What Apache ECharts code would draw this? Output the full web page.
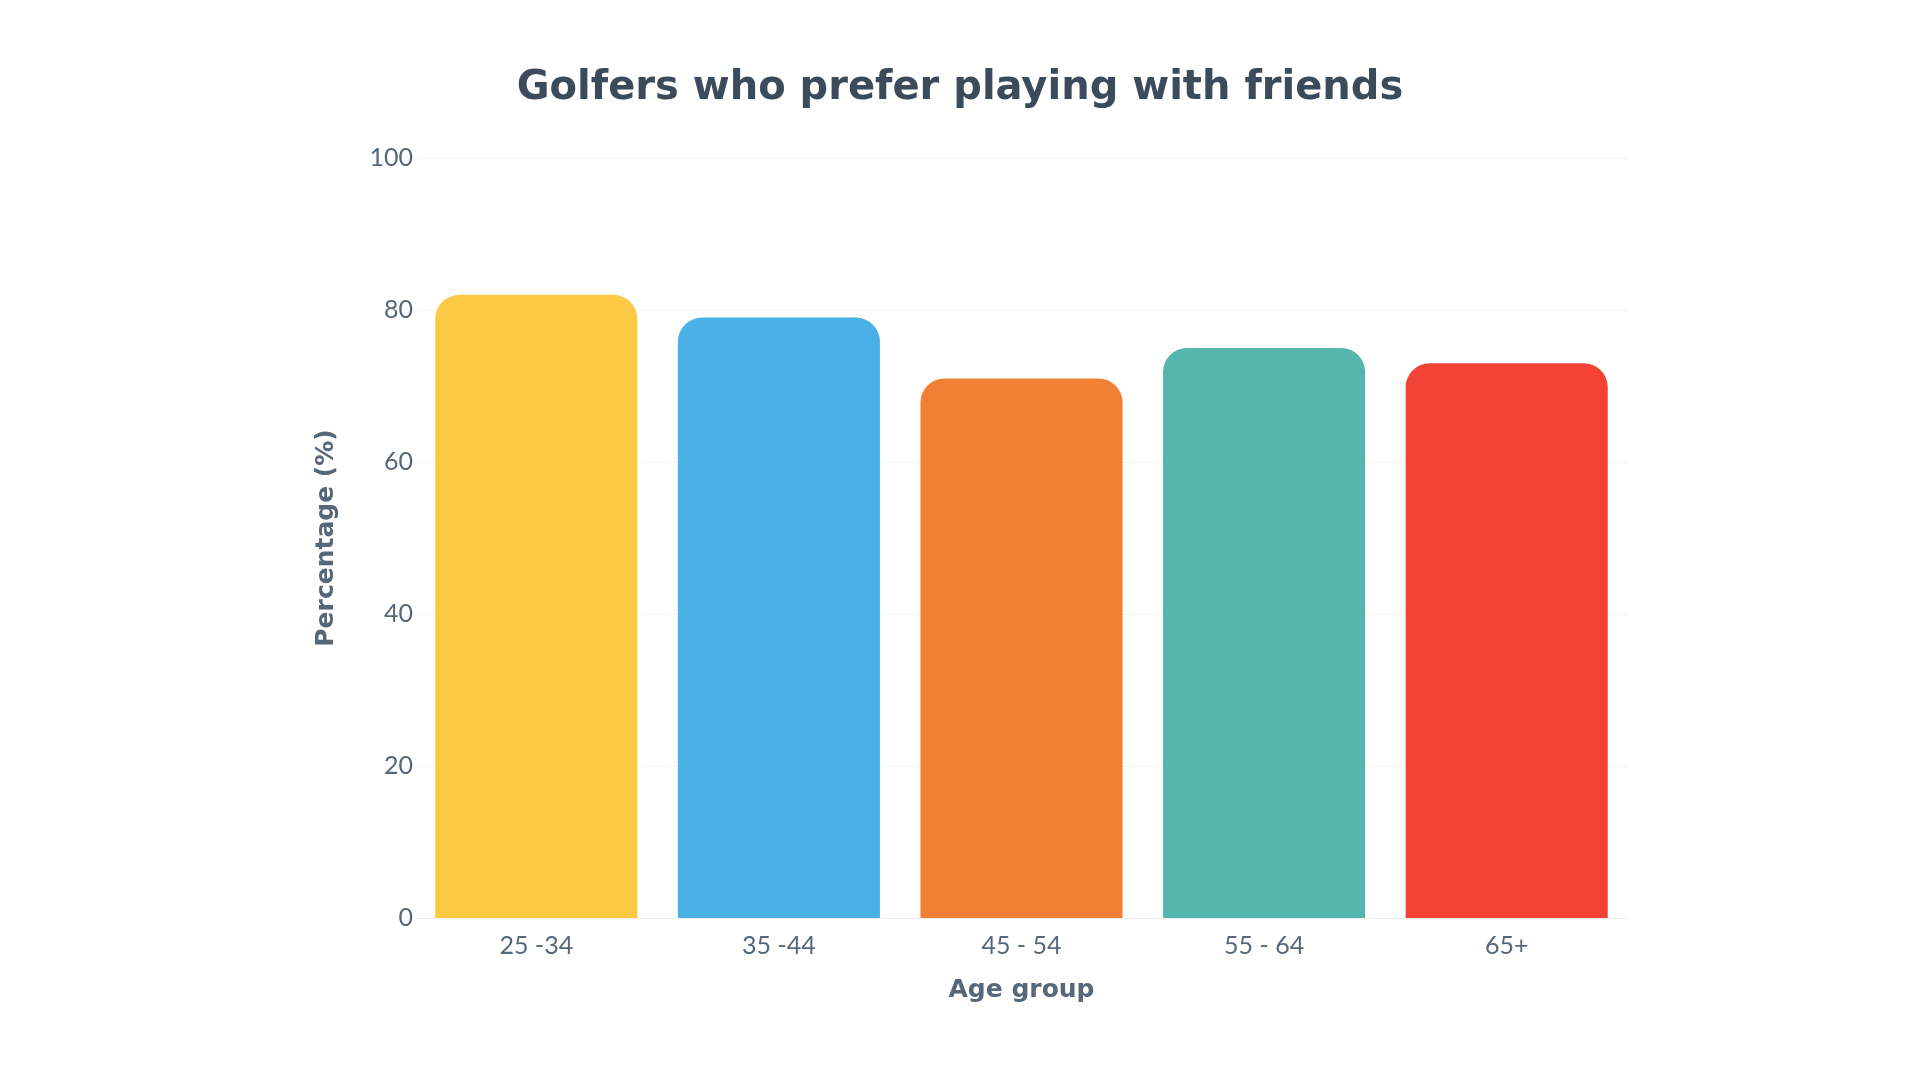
<!DOCTYPE html>
<html>
<head>
<meta charset="utf-8">
<title>Golfers who prefer playing with friends</title>
<script src="https://cdn.jsdelivr.net/npm/echarts@6/dist/echarts.min.js"></script>
<style>
  html, body { margin: 0; padding: 0; background: #fff; }
  #chart { width: 1920px; height: 1080px; }
</style>
</head>
<body>
<div id="chart"></div>
<script>
// data
const ageGroups = ['25 -34', '35 -44', '45 - 54', '55 - 64', '65+'];
const percentages = [82, 79, 71, 75, 73];
const barColors = ['#FCC945', '#4AB1E6', '#F17F34', '#56B6AD', '#F44336'];
const yTicks = { min: 0, max: 100, interval: 20 };

const textColor = '#56677a';
const labelFont = 'Lato, "Noto Sans", sans-serif';
const boldFont = '"DejaVu Sans", "Noto Sans", sans-serif';

let myChart = echarts.init(document.getElementById('chart'));

let option = {
    backgroundColor: '#fff',
    title: {
        text: 'Golfers who prefer playing with friends',
        left: 'center',
        top: 64,
        textStyle: {
            color: '#3b4b5c',
            fontSize: 40,
            fontWeight: 'bold',
            fontFamily: boldFont
        }
    },
    grid: {
        left: 415,
        right: 292,
        top: 158,
        bottom: 162
    },
    xAxis: {
        type: 'category',
        data: ageGroups,
        name: 'Age group',
        nameLocation: 'middle',
        nameGap: 60,
        nameTextStyle: {
            color: textColor,
            fontSize: 25,
            fontWeight: 'bold',
            fontFamily: boldFont
        },
        axisLine: { lineStyle: { color: '#f0f0f0' } },
        axisTick: { show: false },
        axisLabel: {
            color: textColor,
            fontSize: 25,
            margin: 15,
            fontFamily: labelFont
        }
    },
    yAxis: {
        type: 'value',
        min: yTicks.min,
        max: yTicks.max,
        interval: yTicks.interval,
        name: 'Percentage (%)',
        nameLocation: 'middle',
        nameGap: 76,
        nameTextStyle: {
            color: textColor,
            fontSize: 25,
            fontWeight: 'bold',
            fontFamily: boldFont
        },
        axisLine: { show: false },
        axisTick: { show: false },
        axisLabel: {
            color: textColor,
            fontSize: 25,
            margin: 2,
            fontFamily: labelFont
        },
        splitLine: { lineStyle: { color: '#f3f3f3' } }
    },
    series: [
        {
            type: 'bar',
            barCategoryGap: '16.7%',
            data: percentages.map((v, i) => ({
                value: v,
                itemStyle: { color: barColors[i] }
            })),
            itemStyle: { borderRadius: [24, 24, 0, 0] }
        }
    ]
};

myChart.setOption(option);
</script>
</body>
</html>
